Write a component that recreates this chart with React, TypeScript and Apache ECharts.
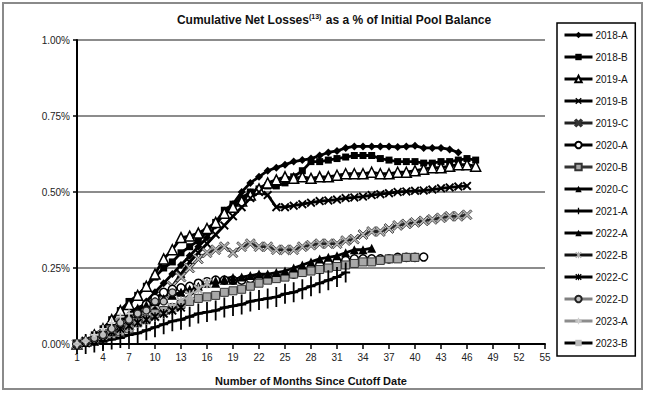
import React, { useEffect, useRef } from "react";
import * as echarts from "echarts";

const months = ["1","2","3","4","5","6","7","8","9","10","11","12","13","14","15","16","17","18","19","20","21","22","23","24","25","26","27","28","29","30","31","32","33","34","35","36","37","38","39","40","41","42","43","44","45","46","47","48","49","50","51","52","53","54","55"];
const yTicks = [0, 0.25, 0.5, 0.75, 1.0];

const s2018A = [0,0.01,0.02,0.03,0.05,0.07,0.09,0.11,0.14,0.17,0.2,0.23,0.26,0.29,0.32,0.35,0.39,0.43,0.46,0.5,0.53,0.55,0.57,0.58,0.59,0.6,0.605,0.61,0.62,0.63,0.635,0.645,0.65,0.65,0.65,0.65,0.65,0.648,0.65,0.652,0.645,0.645,0.645,0.64,0.63];
const s2018B = [0,0.01,0.03,0.05,0.08,0.11,0.14,0.16,0.19,0.22,0.25,0.27,0.3,0.32,0.34,0.37,0.4,0.44,0.46,0.48,0.5,0.51,0.52,0.52,0.53,0.55,0.57,0.6,0.6,0.605,0.61,0.615,0.62,0.62,0.62,0.61,0.605,0.6,0.6,0.6,0.595,0.595,0.6,0.6,0.605,0.61,0.605];
const s2019A = [0,0.01,0.03,0.05,0.08,0.11,0.13,0.16,0.19,0.23,0.28,0.31,0.35,0.355,0.365,0.38,0.4,0.43,0.45,0.47,0.49,0.51,0.53,0.54,0.55,0.545,0.55,0.545,0.55,0.55,0.555,0.56,0.56,0.56,0.565,0.56,0.56,0.565,0.565,0.57,0.575,0.58,0.58,0.585,0.59,0.59,0.585];
const s2019B = [0,0.005,0.01,0.02,0.03,0.04,0.06,0.08,0.1,0.12,0.15,0.19,0.23,0.27,0.3,0.33,0.36,0.39,0.42,0.45,0.48,0.5,0.49,0.45,0.45,0.455,0.46,0.465,0.47,0.472,0.475,0.48,0.482,0.485,0.49,0.493,0.496,0.5,0.502,0.504,0.505,0.508,0.512,0.515,0.518,0.52];
const s2019C = [0,0.005,0.01,0.02,0.03,0.04,0.06,0.08,0.1,0.13,0.16,0.19,0.22,0.25,0.28,0.3,0.31,0.32,0.3,0.32,0.33,0.32,0.32,0.31,0.31,0.31,0.32,0.325,0.33,0.33,0.33,0.34,0.345,0.36,0.37,0.37,0.38,0.39,0.395,0.4,0.405,0.41,0.415,0.42,0.42,0.425];
const s2020A = [0,0.005,0.01,0.02,0.04,0.06,0.08,0.1,0.13,0.15,0.17,0.18,0.185,0.19,0.2,0.205,0.21,0.21,0.21,0.21,0.215,0.22,0.22,0.22,0.225,0.23,0.24,0.25,0.26,0.265,0.27,0.275,0.28,0.28,0.28,0.28,0.28,0.285,0.285,0.285,0.286];
const s2020B = [0,0.005,0.01,0.02,0.03,0.04,0.05,0.07,0.08,0.1,0.11,0.12,0.13,0.14,0.15,0.155,0.16,0.17,0.175,0.18,0.19,0.2,0.21,0.215,0.22,0.23,0.235,0.24,0.245,0.25,0.255,0.26,0.265,0.27,0.27,0.275,0.28,0.28,0.285,0.285];
const s2020C = [0,0.005,0.01,0.02,0.04,0.06,0.08,0.1,0.12,0.14,0.15,0.16,0.17,0.18,0.19,0.2,0.2,0.21,0.21,0.22,0.225,0.23,0.23,0.235,0.24,0.25,0.26,0.27,0.28,0.285,0.29,0.3,0.31,0.31,0.315];
const s2021A = [0,0,0.005,0.01,0.015,0.02,0.03,0.035,0.045,0.055,0.065,0.075,0.08,0.09,0.1,0.105,0.11,0.12,0.125,0.13,0.14,0.145,0.15,0.155,0.165,0.17,0.18,0.19,0.2,0.21,0.22,0.235];
const s2022A = [0,0.01,0.02,0.04,0.06,0.08,0.1,0.12,0.13,0.14,0.15,0.16,0.17,0.18,0.19,0.2,0.21,0.215,0.22];
const s2022B = [0,0.01,0.02,0.03,0.04,0.05,0.06,0.07,0.08,0.09,0.1,0.12,0.14,0.16,0.18,0.2];
const s2022C = [0,0.01,0.02,0.03,0.04,0.05,0.06,0.07,0.08,0.09,0.1,0.11,0.12];
const s2022D = [0,0.01,0.02,0.03,0.05,0.07,0.08,0.1,0.11,0.14,0.14,0.17];
const s2023A = [0,0.01,0.03,0.05,0.07,0.09,0.1];
const s2023B = [0,0.01,0.02,0.03];

const X_PATH = "path://M0,1.5 L1.5,0 L5,3.5 L8.5,0 L10,1.5 L6.5,5 L10,8.5 L8.5,10 L5,6.5 L1.5,10 L0,8.5 L3.5,5 Z";
const AST_PATH = "path://M0,1.5 L1.5,0 L5,3.5 L8.5,0 L10,1.5 L6.5,5 L10,8.5 L8.5,10 L5,6.5 L1.5,10 L0,8.5 L3.5,5 Z M4.2,0 L5.8,0 L5.8,10 L4.2,10 Z";
const PLUS_TALL = "path://M4,0 L6,0 L6,9 L10,9 L10,11 L6,11 L6,20 L4,20 L4,11 L0,11 L0,9 L4,9 Z";
const PLUS = "path://M4,0 L6,0 L6,4 L10,4 L10,6 L6,6 L6,10 L4,10 L4,6 L0,6 L0,4 L4,4 Z";

type Def = { name: string; data: number[]; line: string; symbol: string; size: any; fill: string; border?: string; bw?: number };

const defs: Def[] = [
  { name: "2018-A", data: s2018A, line: "#000", symbol: "diamond", size: 8, fill: "#000" },
  { name: "2018-B", data: s2018B, line: "#000", symbol: "rect", size: 7, fill: "#000" },
  { name: "2019-A", data: s2019A, line: "#000", symbol: "triangle", size: 10, fill: "#fff", border: "#000", bw: 1.5 },
  { name: "2019-B", data: s2019B, line: "#000", symbol: X_PATH, size: 9, fill: "#000" },
  { name: "2019-C", data: s2019C, line: "#222", symbol: X_PATH, size: 10, fill: "#b4b4b4", border: "#333", bw: 0.8 },
  { name: "2020-A", data: s2020A, line: "#000", symbol: "circle", size: 8, fill: "#fff", border: "#000", bw: 1.5 },
  { name: "2020-B", data: s2020B, line: "#333", symbol: "rect", size: 8, fill: "#a8a8a8", border: "#333", bw: 1 },
  { name: "2020-C", data: s2020C, line: "#000", symbol: "triangle", size: 9, fill: "#000" },
  { name: "2021-A", data: s2021A, line: "#000", symbol: PLUS_TALL, size: [9, 20], fill: "#000" },
  { name: "2022-A", data: s2022A, line: "#000", symbol: "triangle", size: 8, fill: "#000" },
  { name: "2022-B", data: s2022B, line: "#111", symbol: AST_PATH, size: 10, fill: "#b0b0b0" },
  { name: "2022-C", data: s2022C, line: "#000", symbol: AST_PATH, size: 9, fill: "#000" },
  { name: "2022-D", data: s2022D, line: "#808080", symbol: "circle", size: 7, fill: "#c0c0c0", border: "#222", bw: 1.2 },
  { name: "2023-A", data: s2023A, line: "#8c8c8c", symbol: PLUS, size: 8, fill: "#d0d0d0" },
  { name: "2023-B", data: s2023B, line: "#000", symbol: "rect", size: [5, 2], fill: "#bbb" },
];

export default function App() {
  const ref = useRef<HTMLDivElement>(null);
  useEffect(() => {
    if (!ref.current) return;
    const chart = echarts.init(ref.current, null, { renderer: "svg" });
    const font = "Liberation Sans, Arial, sans-serif";
    chart.setOption({
      animation: false,
      backgroundColor: "#fff",
      textStyle: { fontFamily: font },
      graphic: [
        {
          type: "rect",
          shape: { x: 3, y: 3, width: 639, height: 386 },
          style: { fill: "none", stroke: "#8a8a8a", lineWidth: 2 },
          silent: true,
        },
        {
          type: "text",
          x: 334,
          y: 20,
          style: {
            text: "{a|Cumulative Net Losses}{s|(13)}{a| as a % of Initial Pool Balance}",
            align: "center",
            verticalAlign: "middle",
            rich: {
              a: { fontSize: 12, fontWeight: "bold", fontFamily: font, fill: "#111", lineHeight: 14 },
              s: { fontSize: 7, fontWeight: "bold", fontFamily: font, fill: "#111", padding: [0, 1, 7, 0] },
            },
          },
        },
      ],
      legend: {
        orient: "vertical",
        left: 557,
        top: 23,
        itemWidth: 28,
        itemHeight: 8,
        itemGap: 10,
        padding: [6, 7, 7, 6],
        borderColor: "#000",
        borderWidth: 1.5,
        backgroundColor: "#fff",
        lineStyle: { width: 3 },
        textStyle: { fontSize: 10, color: "#111", fontFamily: font, lineHeight: 12, padding: [0, 0, 0, -2] },
        data: defs.map((d) => d.name),
      },
      grid: { left: 77, right: 105, top: 40, bottom: 52, containLabel: false },
      xAxis: {
        type: "category",
        data: months,
        boundaryGap: false,
        name: "Number of Months Since Cutoff Date",
        nameLocation: "middle",
        nameGap: 31,
        nameTextStyle: { fontSize: 11, fontWeight: "bold", color: "#111", fontFamily: font },
        axisLine: { lineStyle: { color: "#000", width: 2 } },
        axisTick: { interval: 2, length: 5, lineStyle: { color: "#000", width: 1.5 } },
        axisLabel: { interval: 2, fontSize: 10, color: "#222", margin: 8, fontFamily: font },
        splitLine: { show: false },
      },
      yAxis: {
        type: "value",
        min: yTicks[0],
        max: yTicks[yTicks.length - 1],
        interval: 0.25,
        axisLine: { show: true, lineStyle: { color: "#000", width: 2 } },
        axisTick: { show: true, length: 4, lineStyle: { color: "#000", width: 1.5 } },
        axisLabel: { fontSize: 10, color: "#222", margin: 7, fontFamily: font, formatter: (v: number) => v.toFixed(2) + "%" },
        splitLine: { show: true, lineStyle: { color: "#8c8c8c", width: 2 } },
      },
      series: defs.map((d) => ({
        name: d.name,
        type: "line",
        data: d.data,
        symbol: d.symbol,
        symbolSize: d.size,
        showAllSymbol: true,
        lineStyle: { color: d.line, width: 2.8 },
        itemStyle: { color: d.fill, borderColor: d.border || d.fill, borderWidth: d.bw || 0 },
        emphasis: { disabled: true },
      })),
    });
    return () => chart.dispose();
  }, []);
  return <div ref={ref} style={{ position: "absolute", left: 0, top: 0, width: 650, height: 396 }} />;
}
